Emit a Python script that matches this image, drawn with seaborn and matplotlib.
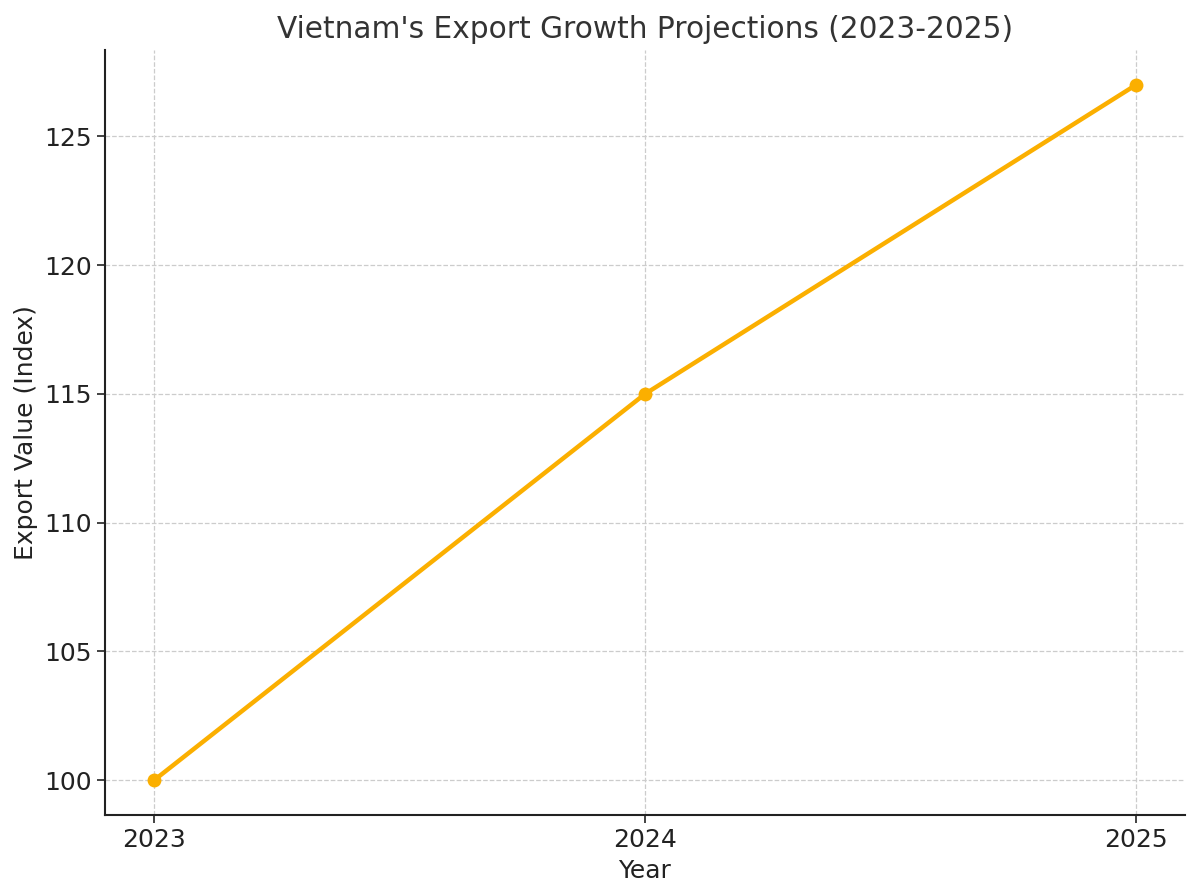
import matplotlib
matplotlib.use("Agg")
import matplotlib.pyplot as plt
import seaborn as sns
import pandas as pd

years = [2023, 2024, 2025]
export_index = [100, 115, 127]

df = pd.DataFrame({"Year": years, "Export Value (Index)": export_index})

sns.set_style("ticks")
plt.rcParams['font.family'] = ['DejaVu Sans']

fig, ax = plt.subplots(figsize=(12, 8.96), dpi=100)
sns.lineplot(data=df, x="Year", y="Export Value (Index)", ax=ax,
             color="#FBAF00", linewidth=3.2, marker="o", markersize=10,
             markeredgewidth=0)

ax.set_title("Vietnam's Export Growth Projections (2023-2025)", fontsize=21.3,
             color="#333333", pad=9)
ax.set_xlabel("Year", fontsize=18, color="#222222", labelpad=5)
ax.set_ylabel("Export Value (Index)", fontsize=18, color="#222222")
ax.set_xticks(years)
ax.tick_params(axis="both", labelsize=18, colors="#222222", length=6, width=1.2)
ax.grid(True, linestyle="--", color="#cccccc", linewidth=0.9)
sns.despine(ax=ax)
for s in ["left", "bottom"]:
    ax.spines[s].set_linewidth(1.5)
    ax.spines[s].set_color("#222222")

fig.subplots_adjust(left=0.0875, right=0.9875, top=0.944, bottom=0.0904)
fig.savefig("out.png", dpi=100)
